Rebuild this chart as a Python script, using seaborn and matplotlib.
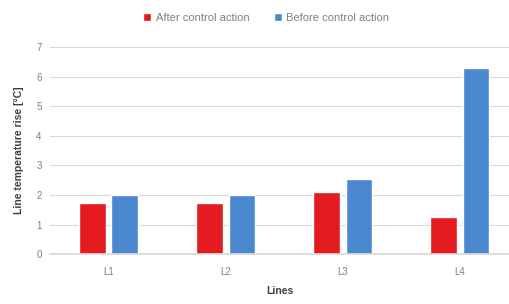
import pandas as pd
import seaborn as sns
import matplotlib.pyplot as plt

lines = ["L1", "L2", "L3", "L4"]
after_rise = [1.72, 1.72, 2.1, 1.27]
before_rise = [2.0, 2.0, 2.55, 6.3]
series_names = ["After control action", "Before control action"]

df = pd.DataFrame({
    "Lines": lines * 2,
    "rise": after_rise + before_rise,
    "state": [series_names[0]] * 4 + [series_names[1]] * 4,
})

sns.set_theme(style="white")
plt.rcParams["font.family"] = ["Liberation Sans", "DejaVu Sans"]

fig = plt.figure(figsize=(5.1, 3.04), dpi=100)
ax = fig.add_axes([0.098, 0.164, 0.902, 0.681])

sns.barplot(data=df, x="Lines", y="rise", hue="state", hue_order=series_names,
            palette=["#E31B1E", "#4A88CF"], width=0.56, gap=0.18,
            saturation=1, ax=ax, legend=True)

ax.set_ylim(0, 7)
ax.set_xlim(-0.5, 3.43)
ax.set_yticks(range(0, 8))
ax.yaxis.grid(True, color="#D9D9D9", linewidth=0.8)
ax.set_axisbelow(True)
for s in ["top", "right", "left"]:
    ax.spines[s].set_visible(False)
ax.spines["bottom"].set_color("#D9D9D9")
ax.tick_params(axis="both", length=0, labelsize=7, colors="#7F7F7F", pad=6)
ax.tick_params(axis="x", pad=9)
ax.set_xlabel("Lines", fontsize=7.5, fontweight="bold", color="#404040", labelpad=7)
ax.set_ylabel("Line temperature rise [\u00b0C]", fontsize=7.5, fontweight="bold",
              color="#404040", labelpad=9)

ax.legend(loc="center", bbox_to_anchor=(0.47, 1.14), ncol=2, frameon=False,
          fontsize=8, handlelength=0.7, handleheight=0.7, handletextpad=0.4,
          columnspacing=2.2, labelcolor="#7F7F7F")

fig.savefig("out.png", dpi=100)
